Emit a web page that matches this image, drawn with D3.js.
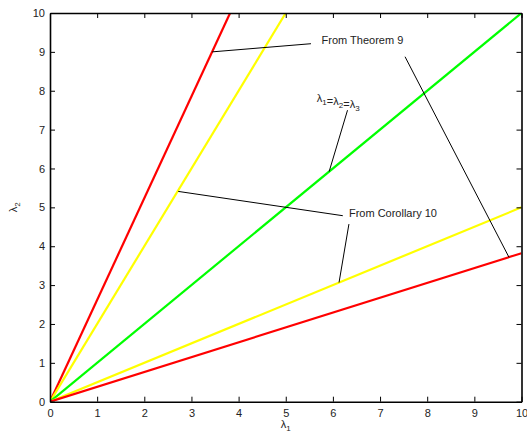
<!DOCTYPE html>
<html><head><meta charset="utf-8">
<script src="https://cdn.jsdelivr.net/npm/d3@7"></script>
<style>body{margin:0;background:#fff}svg{display:block}text{font-family:"Liberation Sans",Arial,sans-serif;fill:#222}</style>
</head><body><div id="chart"></div>
<script>
const xTicks = [0,1,2,3,4,5,6,7,8,9,10];
const yTicks = [0,1,2,3,4,5,6,7,8,9,10];
const lineNames = ["redUpper","yellowUpper","green","yellowLower","redLower"];
const lineColors = ["#ff0000","#ffff00","#00ff00","#ffff00","#ff0000"];
const lineX = [[0,3.82],[0,5],[0,10],[0,10],[0,10]];
const lineY = [[0,10],[0,10],[0,10],[0,5],[0,3.82]];
const labelTexts = ["From Theorem 9","λ1=λ2=λ3","From Corollary 10"];
const labelX = [5.76,5.66,6.34];
const labelY = [9.31,7.81,4.855];
const arrowX1 = [3.44,7.53,6.31,2.72,6.34];
const arrowY1 = [9.0,8.875,7.5,5.41,4.57];
const arrowX2 = [5.535,9.735,5.92,6.21,6.13];
const arrowY2 = [9.21,3.715,5.92,4.785,3.065];

const W=527,H=439;
const m={l:50,r:5.5,t:13,b:37.3};
const svg=d3.select("#chart").append("svg").attr("width",W).attr("height",H);
const x=d3.scaleLinear().domain([0,10]).range([m.l,W-m.r]);
const y=d3.scaleLinear().domain([0,10]).range([H-m.b,m.t]);

svg.append("clipPath").attr("id","clip").append("rect")
  .attr("x",m.l).attr("y",m.t).attr("width",W-m.l-m.r).attr("height",H-m.t-m.b);

const line=d3.line().x(d=>x(d[0])).y(d=>y(d[1]));
const g=svg.append("g").attr("clip-path","url(#clip)");
lineNames.forEach((n,i)=>{
  const pts=lineX[i].map((v,j)=>[v,lineY[i][j]]);
  g.append("path").attr("d",line(pts)).attr("fill","none")
   .attr("stroke",lineColors[i]).attr("stroke-width",2.2);
});

// annotation lines
arrowX1.forEach((v,i)=>{
  svg.append("line").attr("x1",x(v)).attr("y1",y(arrowY1[i]))
    .attr("x2",x(arrowX2[i])).attr("y2",y(arrowY2[i]))
    .attr("stroke","#000").attr("stroke-width",1);
});

// labels
labelTexts.forEach((t,i)=>{
  const tx=svg.append("text").attr("x",x(labelX[i])).attr("y",y(labelY[i])).attr("dy","0.35em")
    .attr("font-size",11);
  if(t.startsWith("λ")){
    const parts=t.split("=");
    parts.forEach((p,k)=>{
      tx.append("tspan").text((k>0?"=":"")+"λ");
      tx.append("tspan").attr("dy",3).attr("font-size",8).text(p.slice(1));
      tx.append("tspan").attr("dy",-3).text("");
    });
  } else tx.text(t);
});

// axes
const fmt=d3.format("d");
const axB=svg.append("g").attr("transform",`translate(0,${y(0)})`)
  .call(d3.axisBottom(x).tickValues(xTicks).tickFormat(fmt).tickSizeInner(-5).tickSizeOuter(0).tickPadding(8));
const axL=svg.append("g").attr("transform",`translate(${x(0)},0)`)
  .call(d3.axisLeft(y).tickValues(yTicks).tickFormat(fmt).tickSizeInner(-5).tickSizeOuter(0).tickPadding(5));
const axT=svg.append("g").attr("transform",`translate(0,${y(10)})`)
  .call(d3.axisTop(x).tickValues(xTicks).tickFormat("").tickSizeInner(-5).tickSizeOuter(0));
const axR=svg.append("g").attr("transform",`translate(${x(10)},0)`)
  .call(d3.axisRight(y).tickValues(yTicks).tickFormat("").tickSizeInner(-5).tickSizeOuter(0));
[axB,axL,axT,axR].forEach(a=>{
  a.selectAll("path.domain").attr("stroke","#000").attr("stroke-width",1.6);
  a.selectAll(".tick line").attr("stroke","#000").attr("stroke-width",1);
  a.selectAll("text").attr("font-size",11).attr("fill","#222").attr("font-family","Liberation Sans, Arial, sans-serif");
});

// axis labels
const xl=svg.append("text").attr("x",x(5)).attr("y",428).attr("text-anchor","middle").attr("font-size",11);
xl.append("tspan").text("λ"); xl.append("tspan").attr("dy",3).attr("font-size",8).text("1");
const yl=svg.append("text").attr("transform",`translate(17,${y(5)}) rotate(-90)`).attr("text-anchor","middle").attr("font-size",11);
yl.append("tspan").text("λ"); yl.append("tspan").attr("dy",3).attr("font-size",8).text("2");
</script></body></html>
